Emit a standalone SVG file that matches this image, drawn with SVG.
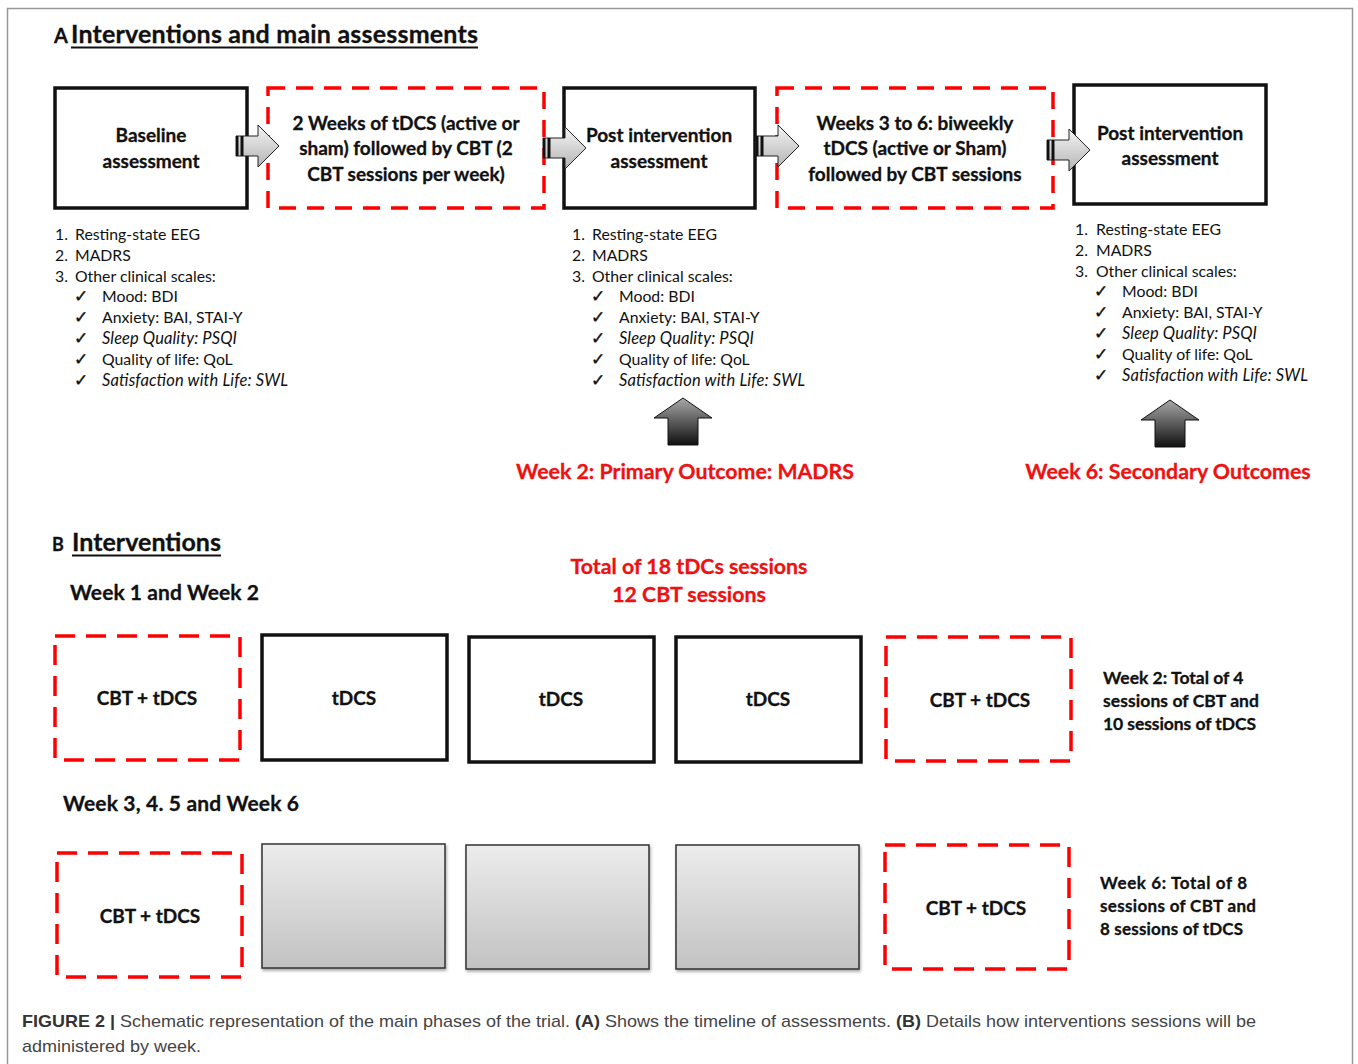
<svg xmlns="http://www.w3.org/2000/svg" width="1358" height="1064" viewBox="0 0 1358 1064">
<style>
.t{font-family:Lato,"Open Sans","Liberation Sans",sans-serif;fill:#111}
.b{font-weight:bold;stroke:#111;stroke-width:0.3}
.h{font-family:Lato,"Open Sans","Liberation Sans",sans-serif;font-weight:bold;font-size:25px;fill:#111;stroke:#111;stroke-width:0.3}
.box{font-family:Lato,"Open Sans","Liberation Sans",sans-serif;font-weight:bold;font-size:19px;fill:#111;text-anchor:middle;stroke:#111;stroke-width:0.3}
.li{font-family:Lato,"Open Sans","Liberation Sans",sans-serif;font-size:15.8px;fill:#111}
.it{font-style:italic;font-size:16.5px}
.ck{font-family:"DejaVu Sans",sans-serif;font-size:17px;fill:#111;stroke:#111;stroke-width:0.4}
.red{font-family:Lato,"Open Sans","Liberation Sans",sans-serif;font-weight:bold;font-size:21.3px;fill:#ee1111;text-anchor:middle;stroke:#ee1111;stroke-width:0.3}
.solid{fill:#fff;stroke:#111;stroke-width:3.5}
.dash{fill:#fff;stroke:#ff0000;stroke-width:3.5;stroke-dasharray:17 11}
.dashB{fill:#fff;stroke:#ff0000;stroke-width:3.5;stroke-dasharray:20 11}
.grey{fill:url(#gGrey);stroke:#333;stroke-width:1.5;filter:url(#sh)}
.cap{font-family:"Liberation Sans Narrow","Liberation Sans",Arial,sans-serif;font-size:17px;fill:#444}
</style>
<defs>
<linearGradient id="gArr" x1="0" y1="0" x2="0" y2="1">
<stop offset="0" stop-color="#f4f4f4"/><stop offset="1" stop-color="#b4b4b4"/>
</linearGradient>
<linearGradient id="gUp" x1="0" y1="0" x2="0" y2="1">
<stop offset="0" stop-color="#a8a8a8"/><stop offset="1" stop-color="#101010"/>
</linearGradient>
<linearGradient id="gGrey" x1="0" y1="0" x2="0" y2="1">
<stop offset="0" stop-color="#ececec"/><stop offset="1" stop-color="#c2c2c2"/>
</linearGradient>
<filter id="sh" x="-5%" y="-5%" width="115%" height="115%">
<feDropShadow dx="1" dy="2" stdDeviation="1.5" flood-color="#000" flood-opacity="0.35"/>
</filter>
<g id="rarrow">
<path d="M0,-10 H22 V-21 L43,0 L22,21 V10 H0 Z" fill="url(#gArr)" stroke="#222" stroke-width="1"/>
<rect x="0" y="-10" width="2.5" height="20" fill="#111"/>
<rect x="4.5" y="-10" width="3" height="20" fill="#111"/>
</g>
<g id="uarrow">
<path d="M0,0 L29,20 H15 V47 H-15 V20 H-29 Z" fill="url(#gUp)" stroke="#111" stroke-width="1"/>
</g>
</defs>
<rect x="0" y="0" width="1358" height="1064" fill="#fff"/>
<rect x="7.5" y="8.5" width="1345" height="1070" fill="none" stroke="#999" stroke-width="1.5"/>

<g id="panelA-title">
<text x="54" y="43" class="h" style="font-size:20px">A</text>
<text x="71" y="43" class="h" textLength="407">Interventions and main assessments</text>
<line x1="71" y1="47.5" x2="478" y2="47.5" stroke="#111" stroke-width="2"/>
</g>

<g id="baseline">
<rect x="55" y="88" width="192" height="120" class="solid"/>
<text class="box" x="151" y="142">Baseline</text>
<text class="box" x="151" y="168">assessment</text>
</g>
<g id="weeks1-2">
<rect x="268" y="88" width="276" height="120" class="dash"/>
<text class="box" x="406" y="130">2 Weeks of tDCS (active or</text>
<text class="box" x="406" y="155">sham) followed by CBT (2</text>
<text class="box" x="406" y="181">CBT sessions per week)</text>
</g>
<g id="post1">
<rect x="564" y="88" width="191" height="120" class="solid"/>
<text class="box" x="659" y="142">Post intervention</text>
<text class="box" x="659" y="168">assessment</text>
</g>
<g id="weeks3-6">
<rect x="777" y="88" width="276" height="120" class="dash"/>
<text class="box" x="915" y="130">Weeks 3 to 6: biweekly</text>
<text class="box" x="915" y="155">tDCS (active or Sham)</text>
<text class="box" x="915" y="181">followed by CBT sessions</text>
</g>
<g id="post2">
<rect x="1074" y="85" width="192" height="119" class="solid"/>
<text class="box" x="1170" y="140">Post intervention</text>
<text class="box" x="1170" y="165">assessment</text>
</g>

<g id="connectors">
<use href="#rarrow" x="236" y="146"/>
<use href="#rarrow" x="543" y="148"/>
<use href="#rarrow" x="756" y="146"/>
<use href="#rarrow" x="1047" y="150"/>
<use href="#uarrow" x="683" y="398"/>
<use href="#uarrow" x="1170" y="400"/>
</g>

<g id="list-baseline">
<text class="li" x="55" y="240">1.</text><text class="li" x="75" y="240">Resting-state EEG</text>
<text class="li" x="55" y="261">2.</text><text class="li" x="75" y="261">MADRS</text>
<text class="li" x="55" y="282">3.</text><text class="li" x="75" y="282">Other clinical scales:</text>
<text class="ck" x="74" y="302">✓</text><text class="li" x="102" y="302">Mood: BDI</text>
<text class="ck" x="74" y="323">✓</text><text class="li" x="102" y="323">Anxiety: BAI, STAI-Y</text>
<text class="ck" x="74" y="344">✓</text><text class="li it" x="102" y="344" textLength="135">Sleep Quality: PSQI</text>
<text class="ck" x="74" y="365">✓</text><text class="li" x="102" y="365">Quality of life: QoL</text>
<text class="ck" x="74" y="386">✓</text><text class="li it" x="102" y="386" textLength="186">Satisfaction with Life: SWL</text>
</g>
<g id="list-post1">
<text class="li" x="572" y="240">1.</text><text class="li" x="592" y="240">Resting-state EEG</text>
<text class="li" x="572" y="261">2.</text><text class="li" x="592" y="261">MADRS</text>
<text class="li" x="572" y="282">3.</text><text class="li" x="592" y="282">Other clinical scales:</text>
<text class="ck" x="591" y="302">✓</text><text class="li" x="619" y="302">Mood: BDI</text>
<text class="ck" x="591" y="323">✓</text><text class="li" x="619" y="323">Anxiety: BAI, STAI-Y</text>
<text class="ck" x="591" y="344">✓</text><text class="li it" x="619" y="344" textLength="135">Sleep Quality: PSQI</text>
<text class="ck" x="591" y="365">✓</text><text class="li" x="619" y="365">Quality of life: QoL</text>
<text class="ck" x="591" y="386">✓</text><text class="li it" x="619" y="386" textLength="186">Satisfaction with Life: SWL</text>
</g>
<g id="list-post2">
<text class="li" x="1075" y="235">1.</text><text class="li" x="1096" y="235">Resting-state EEG</text>
<text class="li" x="1075" y="256">2.</text><text class="li" x="1096" y="256">MADRS</text>
<text class="li" x="1075" y="277">3.</text><text class="li" x="1096" y="277">Other clinical scales:</text>
<text class="ck" x="1094" y="297">✓</text><text class="li" x="1122" y="297">Mood: BDI</text>
<text class="ck" x="1094" y="318">✓</text><text class="li" x="1122" y="318">Anxiety: BAI, STAI-Y</text>
<text class="ck" x="1094" y="339">✓</text><text class="li it" x="1122" y="339" textLength="135">Sleep Quality: PSQI</text>
<text class="ck" x="1094" y="360">✓</text><text class="li" x="1122" y="360">Quality of life: QoL</text>
<text class="ck" x="1094" y="381">✓</text><text class="li it" x="1122" y="381" textLength="186">Satisfaction with Life: SWL</text>
</g>

<g id="outcomes">
<text class="red" x="685" y="479">Week 2: Primary Outcome: MADRS</text>
<text class="red" x="1168" y="479">Week 6: Secondary Outcomes</text>
</g>

<g id="panelB-title">
<text x="52" y="551" class="h" style="font-size:18px">B</text>
<text x="72" y="551" class="h" textLength="149">Interventions</text>
<line x1="72" y1="555.5" x2="221" y2="555.5" stroke="#111" stroke-width="2"/>
<text class="red" x="689" y="574">Total of 18 tDCs sessions</text>
<text class="red" x="689" y="602">12 CBT sessions</text>
<text class="t b" x="70" y="600" font-size="21" textLength="189">Week 1 and Week 2</text>
<text class="t b" x="63" y="811" font-size="21" textLength="236">Week 3, 4. 5 and Week 6</text>
</g>

<g id="w12-1"><rect x="55" y="636" width="185" height="124" class="dashB"/><text class="box" x="147" y="705">CBT + tDCS</text></g>
<g id="w12-2"><rect x="262" y="635" width="185" height="125" class="solid"/><text class="box" x="354" y="705">tDCS</text></g>
<g id="w12-3"><rect x="469" y="637" width="185" height="125" class="solid"/><text class="box" x="561" y="706">tDCS</text></g>
<g id="w12-4"><rect x="676" y="637" width="185" height="125" class="solid"/><text class="box" x="768" y="706">tDCS</text></g>
<g id="w12-5"><rect x="886" y="637" width="185" height="124" class="dashB"/><text class="box" x="980" y="707">CBT + tDCS</text></g>
<g id="w12-note">
<text class="t b" x="1103" y="684" font-size="17.5">Week 2: Total of 4</text>
<text class="t b" x="1103" y="707" font-size="17.5" textLength="156">sessions of CBT and</text>
<text class="t b" x="1103" y="730" font-size="17.5" textLength="153">10 sessions of tDCS</text>
</g>

<g id="w36-1"><rect x="57" y="853" width="185" height="124" class="dashB"/><text class="box" x="150" y="923">CBT + tDCS</text></g>
<g id="w36-2"><rect x="262" y="844" width="183" height="124" class="grey"/></g>
<g id="w36-3"><rect x="466" y="845" width="183" height="124" class="grey"/></g>
<g id="w36-4"><rect x="676" y="845" width="183" height="124" class="grey"/></g>
<g id="w36-5"><rect x="885" y="845" width="184" height="124" class="dashB"/><text class="box" x="976" y="915">CBT + tDCS</text></g>
<g id="w36-note">
<text class="t b" x="1100" y="889" font-size="17" textLength="147">Week 6: Total of 8</text>
<text class="t b" x="1100" y="912" font-size="17" textLength="156">sessions of CBT and</text>
<text class="t b" x="1100" y="935" font-size="17" textLength="143">8 sessions of tDCS</text>
</g>

<g id="caption">
<text class="cap" x="22" y="1027" textLength="1234" lengthAdjust="spacingAndGlyphs"><tspan font-weight="bold" fill="#333">FIGURE 2 |</tspan> Schematic representation of the main phases of the trial. <tspan font-weight="bold" fill="#333">(A)</tspan> Shows the timeline of assessments. <tspan font-weight="bold" fill="#333">(B)</tspan> Details how interventions sessions will be</text>
<text class="cap" x="22" y="1052" textLength="179" lengthAdjust="spacingAndGlyphs">administered by week.</text>
</g>
</svg>
